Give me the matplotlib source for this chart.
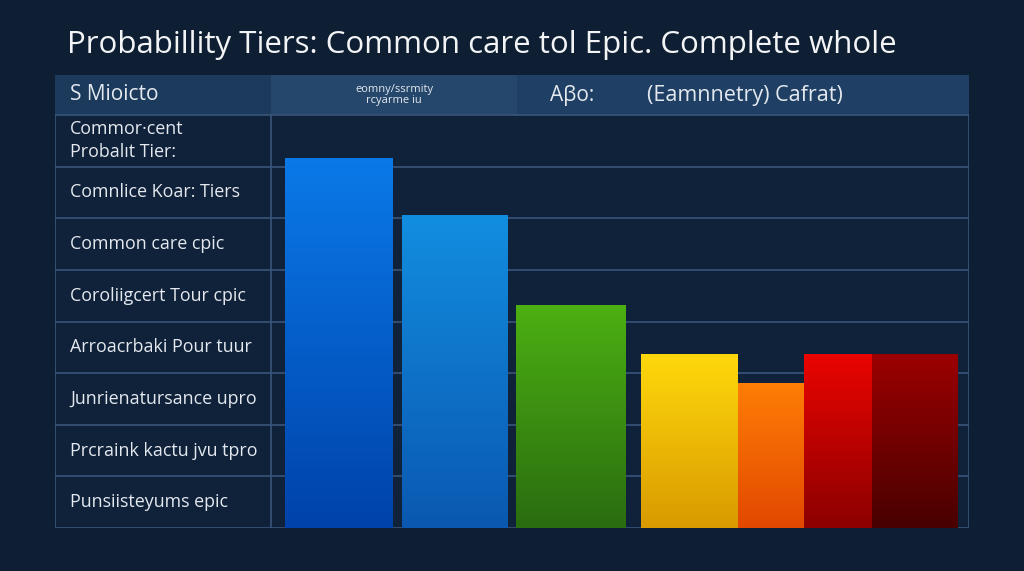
import numpy as np
import matplotlib
matplotlib.use("Agg")
import matplotlib.pyplot as plt
from matplotlib.colors import LinearSegmentedColormap

plt.rcParams['font.family'] = ['Open Sans', 'DejaVu Sans']

title = "Probabillity Tiers: Common care tol Epic. Complete whole"
header_labels = ["S Mioicto", "eomny/ssrmity\nrcyarme iu", "Aꞵo:", "(Eamnnetry) Cafrat)"]
row_labels = [
    "Commor·cent\nProbalıt Tier:",
    "Comnlice Koar: Tiers",
    "Common care cpic",
    "Coroliigcert Tour cpic",
    "Arroacrbaki Pour tuur",
    "Junrienatursance upro",
    "Prcraink kactu jvu tpro",
    "Punsiisteyums epic",
]

# bar heights in row units (8 rows span the chart)
values = [7.17, 6.07, 4.32, 3.37, 2.81, 3.37, 3.37]
top_colors = ["#0a7ae8", "#128ee0", "#4cb012", "#ffd80c", "#ff7e06", "#ea0400", "#9c0000"]
bot_colors = ["#0042aa", "#0a58b0", "#2a6c10", "#d89a00", "#e24800", "#8c0000", "#480000"]

# layout (pixels of the chart panel)
widths = [108, 106, 110, 97, 66, 68, 86]
gaps = [14, 9, 8, 15, 0, 0, 0]

bg = "#0f1f33"
line_c = "#38557a"
txt_c = "#e4e9ef"

fig = plt.figure(figsize=(10.24, 5.71), dpi=100, facecolor=bg)

# table axes in pixel coordinates
tab = fig.add_axes([55 / 1024, 43 / 571, 914 / 1024, 453 / 571])
tab.set_xlim(0, 914)
tab.set_ylim(453, 0)
tab.axis("off")
tab.set_facecolor("none")

tab.add_patch(plt.Rectangle((0, 40), 914, 413, facecolor="#10213a", edgecolor="none", zorder=0))
tab.add_patch(plt.Rectangle((0, 0), 216, 40, facecolor="#1c3a5c", edgecolor="none"))
tab.add_patch(plt.Rectangle((216, 0), 246, 40, facecolor="#24476b", edgecolor="none"))
tab.add_patch(plt.Rectangle((462, 0), 452, 40, facecolor="#1f4064", edgecolor="none"))

row_h = 413 / len(row_labels)
for i in range(len(row_labels) + 1):
    y = 40 + i * row_h
    tab.plot([0, 914], [y, y], color=line_c, lw=1.2, zorder=1)
for x in [0, 216, 914]:
    tab.plot([x, x], [40, 453], color=line_c, lw=1.2, zorder=1)

tab.text(15, 20, header_labels[0], color=txt_c, fontsize=15, va="center", ha="left")
tab.text(339, 20, header_labels[1], color=txt_c, fontsize=8, va="center", ha="center", linespacing=1.1)
tab.text(495, 20, header_labels[2], color=txt_c, fontsize=15, va="center", ha="left")
tab.text(592, 20, header_labels[3], color=txt_c, fontsize=15.5, va="center", ha="left")

for i, lab in enumerate(row_labels):
    y = 40 + (i + 0.5) * row_h
    tab.text(15, y, lab, color=txt_c, fontsize=12.9, va="center", ha="left", linespacing=1.35)

fig.text(67 / 1024, 1 - 45 / 571, title, color="#f2f4f6", fontsize=22.5, va="center", ha="left")

# chart axes
ax = fig.add_axes([271 / 1024, 43 / 571, 698 / 1024, 413 / 571])
ax.set_facecolor("none")
ax.axis("off")

lefts = np.cumsum(np.array(gaps) + np.concatenate([[0], widths[:-1]]))
bars = ax.bar(lefts, values, width=widths, align="edge", color="none", zorder=3)
grad = np.linspace(0, 1, 256).reshape(-1, 1)
for b, tc, bc in zip(bars, top_colors, bot_colors):
    cmap = LinearSegmentedColormap.from_list("g", [bc, tc])
    x0, w, h = b.get_x(), b.get_width(), b.get_height()
    im = ax.imshow(grad, cmap=cmap, aspect="auto", origin="lower",
                   extent=[x0, x0 + w, 0, h], zorder=3)
    im.set_clip_path(b)
ax.set_xlim(0, 698)
ax.set_ylim(0, len(row_labels))

fig.savefig("out.png", dpi=100, facecolor=bg)
